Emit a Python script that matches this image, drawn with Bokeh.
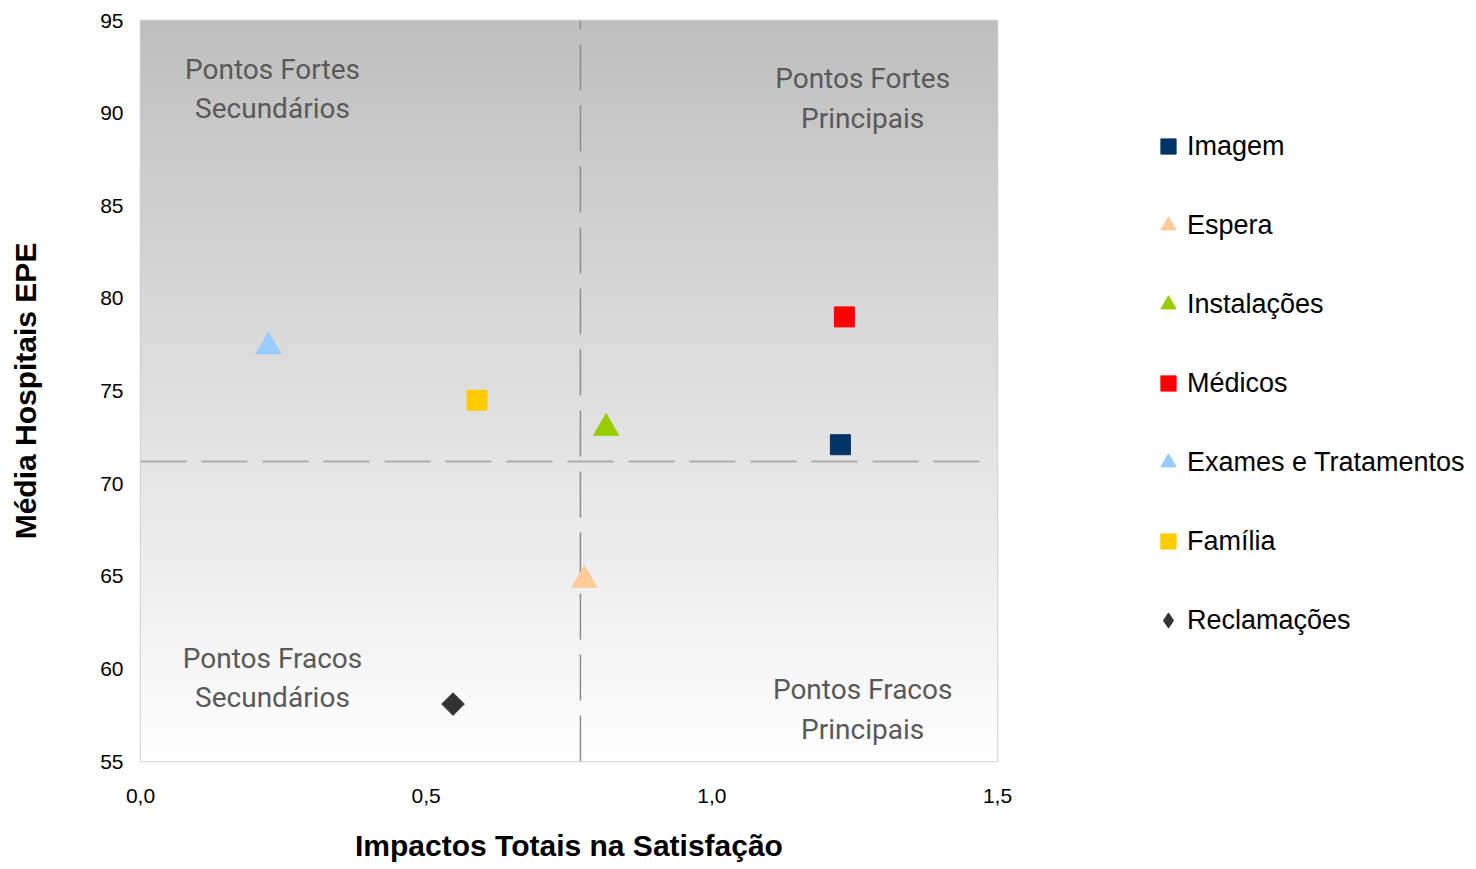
import numpy as np
from bokeh.plotting import figure
from bokeh.models import (ColumnDataSource, Legend, LegendItem, Label, FixedTicker,
                          CustomJSTickFormatter)
from bokeh.embed import file_html
from bokeh.resources import INLINE

# ---- data ----
names = ["Imagem", "Espera", "Instalações", "Médicos", "Exames e Tratamentos", "Família", "Reclamações"]
impact = [1.225, 0.777, 0.815, 1.232, 0.224, 0.589, 0.547]
score = [72.1, 64.8, 73.0, 79.0, 77.4, 74.5, 58.1]
colors = ["#003366", "#FFCC99", "#99CC00", "#FF0000", "#99CCFF", "#FFCC00", "#333333"]
markers = ["square", "triangle", "triangle", "square", "triangle", "square", "diamond"]

avg_impact = 0.77
avg_score = 71.2
x_ticks = [0.0, 0.5, 1.0, 1.5]
y_ticks = [55, 60, 65, 70, 75, 80, 85, 90, 95]

quad_labels = ["Pontos Fortes\nSecundários", "Pontos Fortes\nPrincipais",
               "Pontos Fracos\nSecundários", "Pontos Fracos\nPrincipais"]

p = figure(width=1468, height=861, output_backend="svg", toolbar_location=None,
           x_range=(0, 1.5), y_range=(55, 95),
           frame_width=857, frame_height=741,
           min_border_left=140, min_border_top=20, min_border_right=471, min_border_bottom=100)
p.background_fill_color = "white"
p.border_fill_color = "white"
p.outline_line_color = "#D0D0D0"
p.outline_line_width = 1.5
p.xgrid.visible = False
p.ygrid.visible = False

# gradient background (decoration)
n = 256
t = np.linspace(0, 1, n)  # 0 bottom -> 1 top
g = (255 - t * (255 - 191)).astype(np.uint8)
img = np.zeros((n, 1), dtype=np.uint32)
view = img.view(dtype=np.uint8).reshape((n, 1, 4))
view[:, 0, 0] = g
view[:, 0, 1] = g
view[:, 0, 2] = g
view[:, 0, 3] = 255
p.image_rgba(image=[img], x=0, y=55, dw=1.5, dh=40)

# mean lines
p.line(x=[avg_impact, avg_impact], y=[55, 95], line_color="#8C8C8C", line_width=1.5,
       line_dash="46 15")
p.line(x=[0, 1.48], y=[avg_score, avg_score], line_color="#ADADAD", line_width=2,
       line_dash="46 15")

# points
items = []
for nm, xv, yv, c, m in zip(names, impact, score, colors, markers):
    src = ColumnDataSource(dict(x=[xv], y=[yv]))
    if m == "square":
        r = p.scatter("x", "y", source=src, marker="square", size=20, fill_color=c, line_color=c)
        leg = [r]
    elif m == "triangle":
        r = p.scatter("x", "y", source=src, marker="triangle", size=25, fill_color=c, line_color=c)
        leg = [r]
    else:
        # diamond marker (used for the legend swatch) covered by a rotated square
        lr = p.scatter("x", "y", source=src, marker="diamond", size=16, fill_color=c, line_color=c)
        p.scatter("x", "y", source=src, marker="square", size=16, angle=np.pi / 4,
                  fill_color=c, line_color=c)
        leg = [lr]
    items.append(LegendItem(label=nm, renderers=leg))

legend = Legend(items=items, location=(152, 120), glyph_width=38, glyph_height=42,
                label_height=42, spacing=37, padding=0, margin=0, label_standoff=0,
                label_text_font="Liberation Sans", label_text_font_size="27px",
                label_text_color="black", border_line_alpha=0, background_fill_alpha=0)
p.add_layout(legend, "right")

# quadrant labels
qpos = [(0.231, 91.3), (1.264, 90.8), (0.231, 59.5), (1.264, 57.8)]
for txt, (qx, qy) in zip(quad_labels, qpos):
    p.add_layout(Label(x=qx, y=qy, text=txt, text_align="center", text_baseline="middle",
                       text_font="Roboto", text_font_size="28px",
                       text_color="#595959", text_line_height=1.2))

# axes
fmt = CustomJSTickFormatter(code="return tick.toFixed(1).replace('.', ',');")
p.xaxis.ticker = FixedTicker(ticks=x_ticks)
p.xaxis.formatter = fmt
p.yaxis.ticker = FixedTicker(ticks=y_ticks)
for ax in (p.xaxis, p.yaxis):
    ax.axis_line_color = None
    ax.major_tick_line_color = None
    ax.minor_tick_line_color = None
    ax.major_label_text_font = "Liberation Sans"
    ax.major_label_text_font_size = "21px"
    ax.major_label_text_color = "black"
    ax.axis_label_text_font = "Liberation Sans"
    ax.axis_label_text_font_style = "bold"
    ax.axis_label_text_font_size = "30px"
    ax.axis_label_text_color = "black"
p.xaxis.axis_label = "Impactos Totais na Satisfação"
p.yaxis.axis_label = "Média Hospitais EPE"
p.xaxis.major_label_standoff = 21
p.yaxis.major_label_standoff = 11
p.xaxis.axis_label_standoff = 23
p.yaxis.axis_label_standoff = 55

open("out.html", "w").write(file_html(p, INLINE))
